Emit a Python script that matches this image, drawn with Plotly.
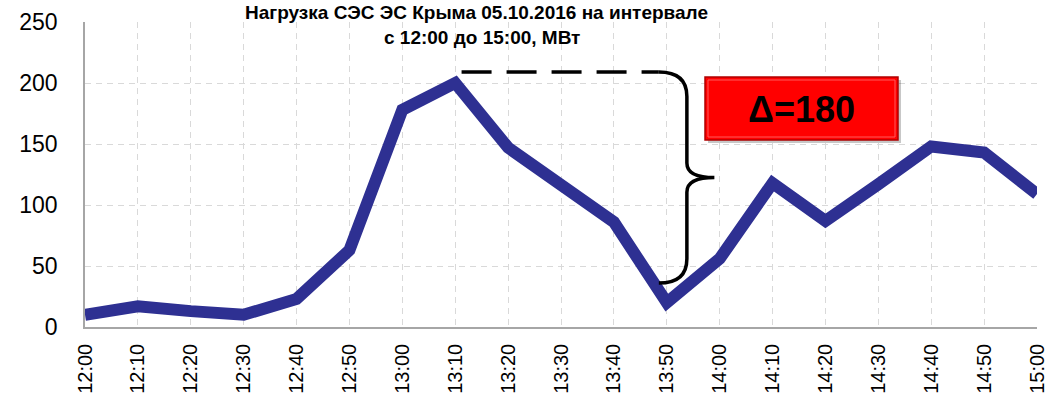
import plotly.graph_objects as go

# Solar plant load, 10-minute readings
times = ["12:00", "12:10", "12:20", "12:30", "12:40", "12:50", "13:00", "13:10",
         "13:20", "13:30", "13:40", "13:50", "14:00", "14:10", "14:20", "14:30",
         "14:40", "14:50", "15:00"]
load_mw = [10, 17, 13, 10, 23, 63, 178, 200, 147, 117, 86, 20, 56, 118, 87, 117,
           148, 143, 109]
y_ticks = [0, 50, 100, 150, 200, 250]

title_lines = ["Нагрузка СЭС ЭС Крыма 05.10.2016 на интервале",
               "с 12:00 до 15:00, МВт"]
delta_label = "Δ=180"

x_idx = list(range(len(times)))
peak = max(load_mw)
i_peak = load_mw.index(peak)

FONT = "Liberation Sans, Arial"

fig = go.Figure()
fig.add_trace(go.Scatter(
    x=x_idx, y=load_mw, mode="lines",
    line=dict(color="#2E3092", width=12),
    hoverinfo="skip", showlegend=False,
))

grid = dict(showgrid=True, gridcolor="#D9D9D9", griddash="6px,5px", gridwidth=1)

fig.update_xaxes(
    range=[0, len(times) - 1], tickmode="array", tickvals=x_idx, ticktext=times,
    tickangle=-90, tickfont=dict(family=FONT, size=20, color="#000"),
    showline=True, linecolor="#A6A6A6", linewidth=1.5, ticks="", zeroline=False,
    ticklabelstandoff=7, automargin=False,
    **grid,
)
fig.update_yaxes(
    range=[0, 250], tickmode="array", tickvals=y_ticks,
    tickfont=dict(family=FONT, size=23, color="#000"),
    showline=True, linecolor="#A6A6A6", linewidth=1.5, ticks="", zeroline=False,
    ticklabelstandoff=21, automargin=False,
    **grid,
)

# Dashed reference line from the peak across to the brace
top_y = 209
bot_y = 36
fig.add_shape(type="line", x0=i_peak + 0.12, x1=10.85, y0=top_y, y1=top_y,
              line=dict(color="black", width=3.5, dash="30px,15px"))

# Curly brace spanning the drop
bx = 11.38
tip_x = 11.9
mid_y = (top_y + bot_y) / 2
path = (f"M 10.85,{top_y} "
        f"Q {bx},{top_y} {bx},{top_y - 20} "
        f"L {bx},{mid_y + 12} "
        f"Q {bx},{mid_y} {tip_x},{mid_y} "
        f"Q {bx},{mid_y} {bx},{mid_y - 12} "
        f"L {bx},{bot_y + 20} "
        f"Q {bx},{bot_y} 10.85,{bot_y}")
fig.add_shape(type="path", path=path, line=dict(color="black", width=3.5))


# Pixel helpers for items placed relative to the plot area
def px_x(p):
    return (p - 85) / 952


def px_y(p):
    return (327 - p) / 305


# Red label box with a soft shadow
fig.add_shape(type="rect", xref="paper", yref="paper",
              x0=px_x(708), x1=px_x(901), y0=px_y(143), y1=px_y(80),
              fillcolor="rgba(0,0,0,0.22)", line=dict(width=0), layer="above")
fig.add_shape(type="rect", xref="paper", yref="paper",
              x0=px_x(705), x1=px_x(898), y0=px_y(140), y1=px_y(77),
              fillcolor="#FF0000", line=dict(color="#B00000", width=1.5), layer="above")
fig.add_shape(type="rect", xref="paper", yref="paper",
              x0=px_x(708), x1=px_x(895), y0=px_y(137), y1=px_y(80),
              fillcolor="rgba(0,0,0,0)", line=dict(color="#FF5A5A", width=1), layer="above")
fig.add_annotation(
    x=px_x((705 + 898) / 2), y=px_y(109), xref="paper", yref="paper",
    xanchor="center", yanchor="middle",
    text=f"<b>{delta_label}</b>", showarrow=False,
    font=dict(family=FONT, size=36, color="black"),
)

# Two-line bold title, lines placed separately for tight spacing
for line, (cx, cy) in zip(title_lines, [(476, 13), (482, 37)]):
    fig.add_annotation(
        x=px_x(cx), y=px_y(cy), xref="paper", yref="paper",
        xanchor="center", yanchor="middle", showarrow=False,
        text=f"<b>{line}</b>", borderpad=0,
        font=dict(family=FONT, size=19, color="black"),
    )

fig.update_layout(
    width=1050, height=393,
    margin=dict(l=85, r=13, t=22, b=66),
    paper_bgcolor="white", plot_bgcolor="white",
    showlegend=False,
)

fig.write_html("out.html")
